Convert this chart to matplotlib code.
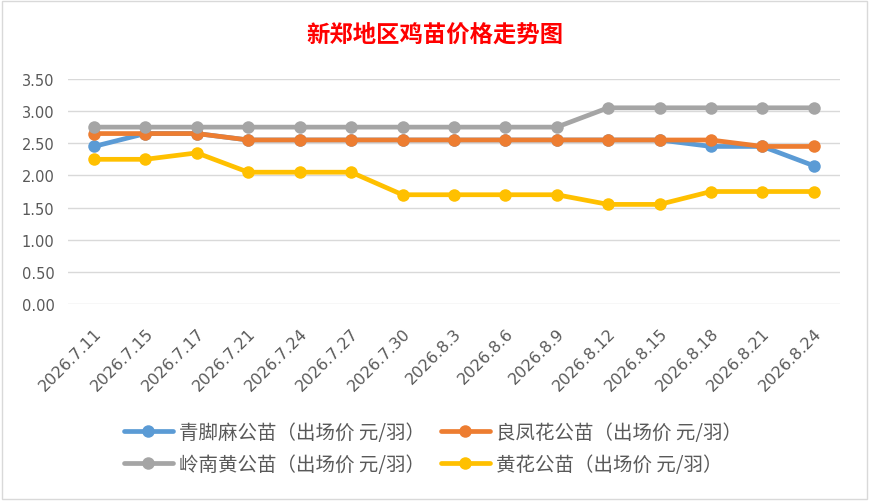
import matplotlib
matplotlib.use("Agg")
import matplotlib.pyplot as plt
from matplotlib.patches import Rectangle

plt.rcParams['font.family'] = ['Noto Sans CJK SC', 'DejaVu Sans']

title = "新郑地区鸡苗价格走势图"
dates = ["2026.7.11", "2026.7.15", "2026.7.17", "2026.7.21", "2026.7.24", "2026.7.27",
         "2026.7.30", "2026.8.3", "2026.8.6", "2026.8.9", "2026.8.12", "2026.8.15",
         "2026.8.18", "2026.8.21", "2026.8.24"]
qingjiaoma = [2.45, 2.65, 2.65, 2.55, 2.55, 2.55, 2.55, 2.55, 2.55, 2.55, 2.55, 2.55, 2.45, 2.45, 2.15]
liangfenghua = [2.65, 2.65, 2.65, 2.55, 2.55, 2.55, 2.55, 2.55, 2.55, 2.55, 2.55, 2.55, 2.55, 2.45, 2.45]
lingnanhuang = [2.75, 2.75, 2.75, 2.75, 2.75, 2.75, 2.75, 2.75, 2.75, 2.75, 3.05, 3.05, 3.05, 3.05, 3.05]
huanghua = [2.25, 2.25, 2.35, 2.05, 2.05, 2.05, 1.70, 1.70, 1.70, 1.70, 1.55, 1.55, 1.75, 1.75, 1.75]
series_names = ["青脚麻公苗（出场价 元/羽）", "良凤花公苗（出场价 元/羽）",
                "岭南黄公苗（出场价 元/羽）", "黄花公苗（出场价 元/羽）"]
yticks = [0.0, 0.5, 1.0, 1.5, 2.0, 2.5, 3.0, 3.5]

colors = ["#5B9BD5", "#ED7D31", "#A5A5A5", "#FFC000"]
series = [qingjiaoma, liangfenghua, lingnanhuang, huanghua]

fig = plt.figure(figsize=(8.7, 5.02), dpi=100)
ax = fig.add_axes([0.0785, 0.392, 0.8865, 0.449])

x = list(range(len(dates)))
handles = []
for i, (vals, c, name) in enumerate(zip(series, colors, series_names)):
    h, = ax.plot(x, vals, color=c, lw=3.4, marker='o', markersize=9,
                 markeredgewidth=0, label=name, zorder=3 + i, solid_capstyle='round')
    handles.append(h)

ax.set_xlim(-0.5, len(dates) - 0.5)
ax.set_ylim(0, 3.5)
ax.set_yticks(yticks)
ax.set_yticklabels([f"{v:.2f}" for v in yticks], fontsize=10.5, color="#595959",
                   family=['DejaVu Sans'])
ax.set_xticks(x)
ax.set_xticklabels(dates, rotation=45, ha='right', rotation_mode='anchor',
                   fontsize=11.5, color="#595959", family=['DejaVu Sans'])
ax.tick_params(axis='both', length=0)
ax.tick_params(axis='x', pad=15)
ax.tick_params(axis='y', pad=10)
ax.grid(axis='y', color="#D9D9D9", lw=1)
ax.set_axisbelow(True)
for s in ax.spines.values():
    s.set_visible(False)

fig.text(0.5, 0.93, title, ha='center', va='center', color='#FF0000',
         fontsize=16.8, fontweight='bold')

order = [0, 2, 1, 3]
leg = fig.legend([handles[i] for i in order], [series_names[i] for i in order],
                 ncol=2, loc='center', bbox_to_anchor=(0.498, 0.105), frameon=False,
                 fontsize=14, handlelength=2.5, handletextpad=0.35,
                 columnspacing=0.8, labelspacing=0.55,
                 labelcolor="#595959")

fig.patches.append(Rectangle((0.002, 0.003), 0.995, 0.994, transform=fig.transFigure,
                             fill=False, edgecolor="#D9D9D9", lw=1))

fig.savefig("out.png", dpi=100)
